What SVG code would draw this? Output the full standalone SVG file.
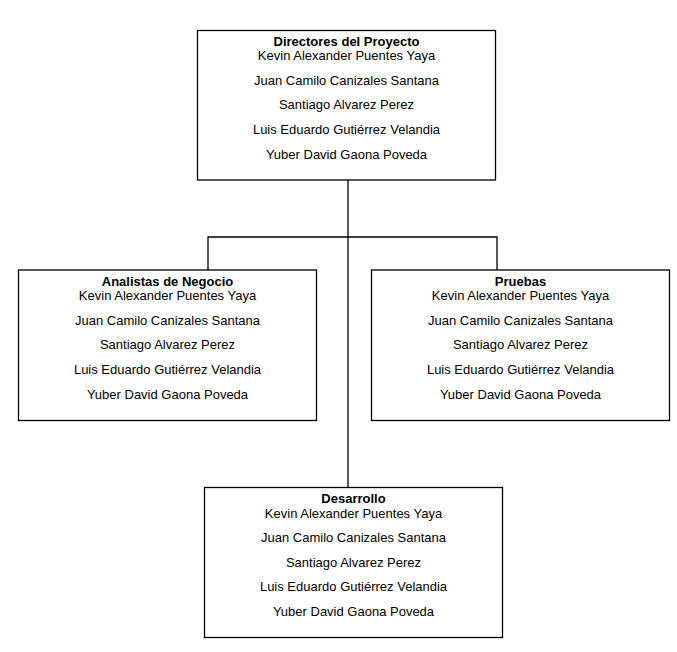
<svg xmlns="http://www.w3.org/2000/svg" width="677" height="652" viewBox="0 0 677 652">
<style>
.box{fill:#fff;stroke:#000;stroke-width:1.3}
.ln{stroke:#000;stroke-width:1.3;fill:none}
text{font-family:"Liberation Sans",Arial,sans-serif;font-size:13px;fill:#000;text-anchor:middle}
.t{font-weight:bold}
</style>
<rect width="677" height="652" fill="#fff"/>
<g id="connectors">
<line class="ln" x1="348" y1="180" x2="348" y2="487.5"/>
<polyline class="ln" points="208,270 208,237 497,237 497,270"/>
</g>
<g id="directores">
<rect class="box" x="197.5" y="30.5" width="298" height="149.5"/>
<text x="346.5" y="45.5" class="t">Directores del Proyecto</text>
<text x="346.5" y="60">Kevin Alexander Puentes Yaya</text>
<text x="346.5" y="84.5">Juan Camilo Canizales Santana</text>
<text x="346.5" y="109">Santiago Alvarez Perez</text>
<text x="346.5" y="133.5">Luis Eduardo Gutiérrez Velandia</text>
<text x="346.5" y="158.5">Yuber David Gaona Poveda</text>
</g>
<g id="analistas">
<rect class="box" x="18.5" y="270" width="298" height="150.5"/>
<text x="167.5" y="285.5" class="t">Analistas de Negocio</text>
<text x="167.5" y="300">Kevin Alexander Puentes Yaya</text>
<text x="167.5" y="324.5">Juan Camilo Canizales Santana</text>
<text x="167.5" y="349">Santiago Alvarez Perez</text>
<text x="167.5" y="373.5">Luis Eduardo Gutiérrez Velandia</text>
<text x="167.5" y="398.5">Yuber David Gaona Poveda</text>
</g>
<g id="pruebas">
<rect class="box" x="371.5" y="270" width="298" height="150.5"/>
<text x="520.5" y="285.5" class="t">Pruebas</text>
<text x="520.5" y="300">Kevin Alexander Puentes Yaya</text>
<text x="520.5" y="324.5">Juan Camilo Canizales Santana</text>
<text x="520.5" y="349">Santiago Alvarez Perez</text>
<text x="520.5" y="373.5">Luis Eduardo Gutiérrez Velandia</text>
<text x="520.5" y="398.5">Yuber David Gaona Poveda</text>
</g>
<g id="desarrollo">
<rect class="box" x="204.5" y="487.5" width="298" height="150"/>
<text x="353.5" y="503" class="t">Desarrollo</text>
<text x="353.5" y="517.5">Kevin Alexander Puentes Yaya</text>
<text x="353.5" y="542">Juan Camilo Canizales Santana</text>
<text x="353.5" y="566.5">Santiago Alvarez Perez</text>
<text x="353.5" y="591">Luis Eduardo Gutiérrez Velandia</text>
<text x="353.5" y="616">Yuber David Gaona Poveda</text>
</g>
</svg>
